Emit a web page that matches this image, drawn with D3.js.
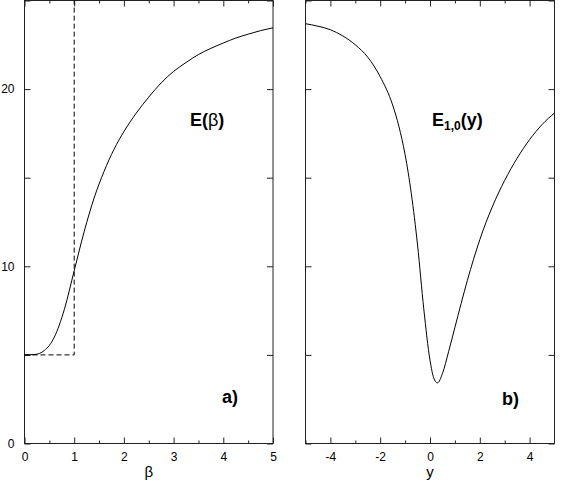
<!DOCTYPE html>
<html>
<head>
<meta charset="utf-8">
<script src="https://cdn.jsdelivr.net/npm/d3@7"></script>
<style>
  body { margin: 0; background: #fff; }
  svg { display: block; font-family: "Liberation Sans", Arial, sans-serif; }
  .tick text { font-size: 12px; fill: #000; }
  .tick line { stroke: #222; }
</style>
</head>
<body>
<div id="chart"></div>
<script>
// panel a) E(beta)
var betaVals = [0, 0.2, 0.4, 0.6, 0.8, 1.0, 1.2, 1.4, 1.6, 1.8, 2.0, 2.25, 2.5, 2.75, 3.0, 3.25, 3.5, 3.75, 4.0, 4.25, 4.5, 4.75, 5.0];
var eBeta    = [5.0, 5.02, 5.25, 6.0, 7.55, 9.75, 11.95, 13.85, 15.35, 16.6, 17.6, 18.65, 19.55, 20.35, 21.0, 21.5, 21.95, 22.3, 22.6, 22.88, 23.1, 23.3, 23.46];
// dashed step: E=5 up to beta=1, then vertical
var stepBeta = [0, 1, 1];
var stepE    = [5, 5, 25];

// panel b) E_{1,0}(y)
var yVals = [-5, -4.5, -4, -3.5, -3, -2.5, -2, -1.5, -1.25, -1, -0.75, -0.5, -0.25, 0, 0.15, 0.3, 0.5, 0.75, 1.0, 1.25, 1.5, 1.75, 2.0, 2.5, 3.0, 3.5, 4.0, 4.5, 5.0];
var eY    = [23.69, 23.55, 23.35, 23.0, 22.5, 21.8, 20.7, 19.1, 17.9, 16.3, 14.1, 11.2, 7.6, 4.7, 3.7, 3.42, 3.95, 5.2, 6.55, 7.9, 9.2, 10.4, 11.5, 13.35, 14.85, 16.1, 17.15, 18.0, 18.65];

// ticks
var betaTicks = [0, 1, 2, 3, 4, 5];
var betaMinor = [0.5, 1.5, 2.5, 3.5, 4.5];
var yTicks = [-4, -2, 0, 2, 4];
var yMinor = [-5, -3, -1, 1, 3];
var eTicks = [0, 5, 10, 15, 20, 25];

var W = 575, H = 486;
var plotTop = 0.5, plotBottom = 443.5;

var svg = d3.select("#chart").append("svg")
    .attr("width", W)
    .attr("height", H);

var yScale = d3.scaleLinear().domain([0, 25]).range([plotBottom, plotTop]);

function panel(xDomain, xRange, major, minor, fmt, showYLabels) {
  var x = d3.scaleLinear().domain(xDomain).range(xRange);
  var g = svg.append("g");

  // bottom axis with labels
  g.append("g")
    .attr("transform", "translate(0," + plotBottom + ")")
    .call(d3.axisBottom(x).tickValues(major).tickSize(-6).tickPadding(9).tickFormat(fmt))
    .call(function(s) { s.select(".domain").remove(); });
  g.append("g")
    .attr("transform", "translate(0," + plotBottom + ")")
    .call(d3.axisBottom(x).tickValues(minor).tickSize(-3).tickFormat(""))
    .call(function(s) { s.select(".domain").remove(); });
  // top axis
  g.append("g")
    .attr("transform", "translate(0," + plotTop + ")")
    .call(d3.axisTop(x).tickValues(major).tickSize(-6).tickFormat(""))
    .call(function(s) { s.select(".domain").remove(); });
  g.append("g")
    .attr("transform", "translate(0," + plotTop + ")")
    .call(d3.axisTop(x).tickValues(minor).tickSize(-3).tickFormat(""))
    .call(function(s) { s.select(".domain").remove(); });
  // left / right
  g.append("g")
    .attr("transform", "translate(" + xRange[0] + ",0)")
    .call(d3.axisLeft(yScale).tickValues(eTicks).tickSize(-6).tickPadding(10)
      .tickFormat(function(d) { return showYLabels && d % 10 === 0 && d < 25 ? d : ""; }))
    .call(function(s) { s.select(".domain").remove(); });
  g.append("g")
    .attr("transform", "translate(" + xRange[1] + ",0)")
    .call(d3.axisRight(yScale).tickValues(eTicks).tickSize(-6).tickFormat(""))
    .call(function(s) { s.select(".domain").remove(); });

  g.append("rect")
    .attr("x", xRange[0])
    .attr("y", plotTop)
    .attr("width", xRange[1] - xRange[0])
    .attr("height", plotBottom - plotTop)
    .attr("fill", "none")
    .attr("stroke", "#222")
    .attr("stroke-width", 1);

  return { g: g, x: x };
}

var pa = panel([0, 5], [24.5, 273], betaTicks, betaMinor, d3.format("d"), true);
var pb = panel([-5, 5], [305.5, 554.5], yTicks, yMinor, function(d) { return d < 0 ? "-" + Math.abs(d) : d; }, false);

// dashed step in panel a
pa.g.append("path")
  .datum(d3.range(stepBeta.length))
  .attr("fill", "none")
  .attr("stroke", "#000")
  .attr("stroke-width", 1)
  .attr("stroke-dasharray", "5,3")
  .attr("d", d3.line()
    .x(function(i) { return pa.x(stepBeta[i]); })
    .y(function(i) { return yScale(stepE[i]); }));

// curves
pa.g.append("path")
  .datum(d3.range(betaVals.length))
  .attr("fill", "none")
  .attr("stroke", "#000")
  .attr("stroke-width", 1)
  .attr("d", d3.line().curve(d3.curveMonotoneX)
    .x(function(i) { return pa.x(betaVals[i]); })
    .y(function(i) { return yScale(eBeta[i]); }));

pb.g.append("path")
  .datum(d3.range(yVals.length))
  .attr("fill", "none")
  .attr("stroke", "#000")
  .attr("stroke-width", 1)
  .attr("d", d3.line().curve(d3.curveMonotoneX)
    .x(function(i) { return pb.x(yVals[i]); })
    .y(function(i) { return yScale(eY[i]); }));

// axis titles
svg.append("text")
  .attr("x", pa.x(2.5)).attr("y", 477)
  .attr("text-anchor", "middle")
  .style("font-size", "15px")
  .text("β");
svg.append("text")
  .attr("x", pb.x(0)).attr("y", 477)
  .attr("text-anchor", "middle")
  .style("font-size", "15px")
  .text("y");

// annotations
var t1 = svg.append("text")
  .attr("x", 190).attr("y", 126)
  .style("font-size", "18px")
  .style("font-weight", "bold");
t1.append("tspan").text("E(");
t1.append("tspan").style("font-weight", "normal").text("β");
t1.append("tspan").text(")");

var t2 = svg.append("text")
  .attr("x", 432).attr("y", 126)
  .style("font-size", "18px")
  .style("font-weight", "bold");
t2.append("tspan").text("E");
t2.append("tspan").attr("dy", 4).style("font-size", "12px").text("1,0");
t2.append("tspan").attr("dy", -4).text("(y)");

svg.append("text")
  .attr("x", 222).attr("y", 403)
  .style("font-size", "18px")
  .style("font-weight", "bold")
  .text("a)");
svg.append("text")
  .attr("x", 502).attr("y", 405)
  .style("font-size", "18px")
  .style("font-weight", "bold")
  .text("b)");
</script>
</body>
</html>
